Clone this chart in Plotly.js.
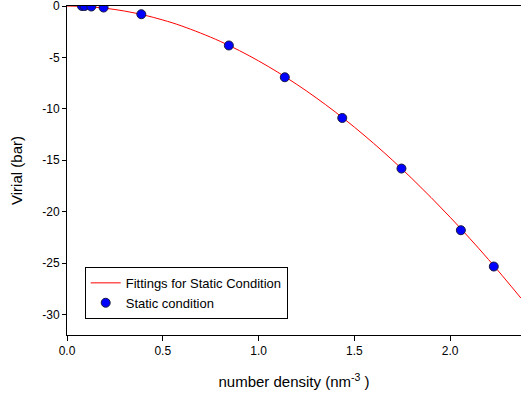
<!DOCTYPE html>
<html>
<head>
<meta charset="utf-8">
<script src="https://cdn.plot.ly/plotly-3.0.1.min.js"></script>
<style>html,body{margin:0;padding:0;background:#fff;}#chart{width:521px;height:398px;}</style>
</head>
<body>
<div id="chart"></div>
<script>
// Static condition data points
var pointX = [0.078, 0.092, 0.127, 0.191, 0.388, 0.845, 1.137, 1.437, 1.746, 2.056, 2.228];
var pointY = [0.0, 0.0, -0.05, -0.15, -0.80, -3.84, -6.93, -10.89, -15.81, -21.81, -25.34];

// Fitted curve
var fitX = [0, 0.1, 0.2, 0.3, 0.4, 0.5, 0.6, 0.8, 1.0, 1.2, 1.4, 1.6, 1.8, 2.0, 2.2, 2.37];
var fitY = [0, -0.055, -0.22, -0.49, -0.87, -1.36, -1.95, -3.44, -5.34, -7.63, -10.30, -13.35, -16.77, -20.54, -24.65, -28.42];

var xTicks = [0, 0.5, 1.0, 1.5, 2.0];
var xTickText = ['0.0', '0.5', '1.0', '1.5', '2.0'];
var yTicks = [0, -5, -10, -15, -20, -25, -30];
var yTickText = ['0', '-5', '-10', '-15', '-20', '-25', '-30'];

var fam = 'Liberation Sans, Arial, sans-serif';
var tickFont = {family: fam, size: 12, color: '#000'};
var titleFont = {family: fam, size: 15, color: '#000'};
var legendFont = {family: fam, size: 13, color: '#000'};

var traces = [
  {x: fitX, y: fitY, mode: 'lines', name: 'Fittings for Static Condition',
   line: {color: '#ff0000', width: 1, shape: 'spline'}},
  {x: pointX, y: pointY, mode: 'markers', name: 'Static condition',
   marker: {color: '#0000ff', size: 9, line: {color: '#1a1a40', width: 1}}}
];

var layout = {
  width: 521, height: 398,
  margin: {l: 67, r: 0, t: 6, b: 63},
  paper_bgcolor: '#fff', plot_bgcolor: '#fff',
  font: tickFont,
  showlegend: true,
  legend: {x: 0.039, y: 0.207, xanchor: 'left', yanchor: 'top',
           bordercolor: '#000', borderwidth: 1, bgcolor: '#fff',
           font: legendFont, tracegroupgap: 0},
  xaxis: {range: [0, 2.37], tickvals: xTicks, ticktext: xTickText,
          ticks: 'outside', ticklen: 5, tickcolor: '#000', tickwidth: 1,
          tickfont: tickFont, ticklabeloverflow: 'allow',
          showline: true, linecolor: '#000', linewidth: 1, mirror: true,
          showgrid: false, zeroline: false,
          title: {text: 'number density (nm<sup>-3</sup> )', font: titleFont, standoff: 19}},
  yaxis: {range: [-32, 0], tickvals: yTicks, ticktext: yTickText,
          ticks: 'outside', ticklen: 4, tickcolor: '#000', tickwidth: 1,
          tickfont: tickFont, ticklabeloverflow: 'allow',
          showline: true, linecolor: '#000', linewidth: 1, mirror: true,
          showgrid: false, zeroline: false,
          title: {text: 'Virial (bar)', font: titleFont, standoff: 16}}
};

Plotly.newPlot('chart', traces, layout, {staticPlot: true, displayModeBar: false});
</script>
</body>
</html>
